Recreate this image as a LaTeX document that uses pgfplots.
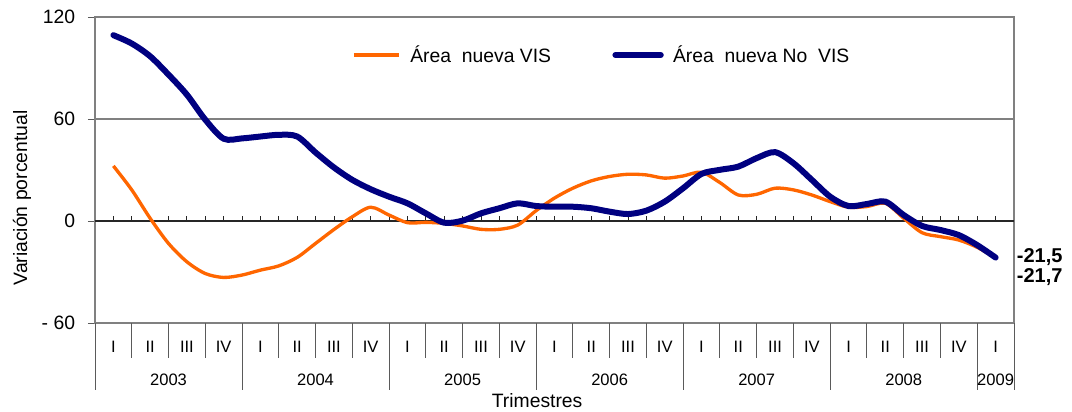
\documentclass[border=0pt]{standalone}
\usepackage{fontspec}
\setmainfont{Liberation Sans}
\usepackage{pgfplots}
\usepackage{pgfplotstable}
\pgfplotsset{compat=1.18}
\definecolor{visorange}{RGB}{255,102,0}
\definecolor{novisblue}{RGB}{0,0,128}
\definecolor{gridgray}{RGB}{128,128,128}
\definecolor{sepgray}{RGB}{90,90,90}

\pgfplotstableread{
t    vis    novis
0    32.4   109.3
0.5  18.3   104.4
1    1.6    96.9
1.5  -13.2  86.1
2    -24.0  74.3
2.5  -30.9  59.6
3    -33.2  48.4
3.5  -31.8  48.6
4    -28.9  49.7
4.5  -26.4  50.7
5    -21.4  49.7
5.5  -13.2  40.3
6    -5.0   31.5
6.5  2.5    24.2
7    8.1    18.7
7.5  3.5    14.3
8    -1.0   10.4
8.5  -0.8   4.5
9    -1.4   -1.0
9.5  -2.9   0.2
10   -4.9   4.5
10.5 -4.9   7.5
11   -2.4   10.4
11.5 6.1    8.8
12   13.5   8.4
12.5 19.3   8.4
13   23.6   7.5
13.5 26.2   5.5
14   27.5   4.1
14.5 27.1   6.1
15   25.2   11.4
15.5 26.5   19.3
16   28.7   27.7
16.5 22.6   30.1
17   15.3   32.0
17.5 15.7   37.0
18   19.3   40.5
18.5 18.3   34.0
19   15.3   24.2
19.5 11.4   14.3
20   8.1    8.8
20.5 8.5    10.0
21   10.4   11.4
21.5 1.6    3.5
22   -6.9   -2.9
22.5 -9.2   -5.3
23   -11.2  -8.3
23.5 -15.5  -14.2
24   -21.7  -21.5
}\datatable

\begin{document}
\begin{tikzpicture}
\useasboundingbox (-71.25pt,-66pt) rectangle (732.75pt,242.25pt);
\begin{axis}[
  at={(0pt,0pt)}, anchor=south west,
  scale only axis, width=689.25pt, height=229.5pt,
  xmin=-0.5, xmax=24.5, ymin=-60, ymax=120,
  clip=false,
  axis line style={draw=gridgray, line width=0.8pt},
  xtick={0,...,24},
  xticklabels={I,II,III,IV,I,II,III,IV,I,II,III,IV,I,II,III,IV,I,II,III,IV,I,II,III,IV,I},
  xtick style={draw=none},
  xticklabel style={anchor=center, yshift=-12.75pt, font=\fontsize{12.4}{14}\selectfont},
  ytick={-60,0,60,120},
  yticklabels={- 60,0,60,120},
  ytick pos=left,
  ytick style={draw=sepgray, line width=0.6pt},
  tick align=outside, major tick length=5.25pt,
  yticklabel style={font=\fontsize{14.5}{17}\selectfont, inner sep=0pt, anchor=east, xshift=-9.5pt},
  ymajorgrids, grid style={gridgray, line width=0.8pt},
  ylabel={Variación porcentual},
  every axis y label/.style={at={([xshift=-54.75pt,yshift=-21pt]axis description cs:0,0.5)}, rotate=90, anchor=center, font=\fontsize{14.5}{17}\selectfont},
  legend style={draw=none, fill=none, at={(0.2797,0.8758)}, anchor=west, inner sep=0pt,
    font=\fontsize{14.5}{17}\selectfont,
    /tikz/every odd column/.append style={column sep=5pt},
    /tikz/every even column/.append style={column sep=44pt}},
  legend columns=2,
  legend cell align=left,
  legend image code/.code={\draw[#1] (0pt,0pt) -- (34pt,0pt);},
]
% zero line with ticks
\draw[black!85, line width=0.9pt] (axis cs:-0.5,0) -- (axis cs:24.5,0);
\pgfplotsinvokeforeach{0,0.5,...,24}{\draw[black!85, line width=0.6pt] (axis cs:#1,0) -- ([yshift=3.4pt]axis cs:#1,0);}
% category box separators
\pgfplotsinvokeforeach{0.5,1.5,...,23.5}{\draw[sepgray, line width=0.7pt] (axis cs:#1,-60) -- ([yshift=-26.25pt]axis cs:#1,-60);}
\pgfplotsinvokeforeach{-0.5,3.5,7.5,11.5,15.5,19.5,23.5,24.5}{\draw[sepgray, line width=0.7pt] (axis cs:#1,-60) -- ([yshift=-50.25pt]axis cs:#1,-60);}
% year labels
\foreach \pos/\yr in {1.5/2003,5.5/2004,9.5/2005,13.5/2006,17.5/2007,21.5/2008,24/2009}{
  \edef\tmp{\noexpand\node[anchor=center, font=\noexpand\fontsize{12.4}{14}\noexpand\selectfont] at ([yshift=-42.75pt]axis cs:\pos,-60) {\yr};}\tmp
}
\node[anchor=base, font=\fontsize{14.5}{17}\selectfont] at ([yshift=-63pt, xshift=0.75pt]axis cs:11.5,-60) {Trimestres};
% end labels
\node[anchor=west, inner sep=0pt, font=\fontsize{15}{17}\selectfont\bfseries] at ([xshift=2pt]axis cs:24.5,-21.2) {-21,5};
\node[anchor=west, inner sep=0pt, font=\fontsize{15}{17}\selectfont\bfseries] at ([xshift=2pt]axis cs:24.5,-33.2) {-21,7};

\addplot[visorange, line width=2.5pt, smooth, tension=0.5] table[x=t, y=vis] {\datatable};
\addlegendentry{Área\ \ nueva VIS}
\addplot[novisblue, line width=4.5pt, smooth, tension=0.5, line cap=round] table[x=t, y=novis] {\datatable};
\addlegendentry{Área\ \ nueva No\ \ VIS}
\end{axis}
\end{tikzpicture}
\end{document}
